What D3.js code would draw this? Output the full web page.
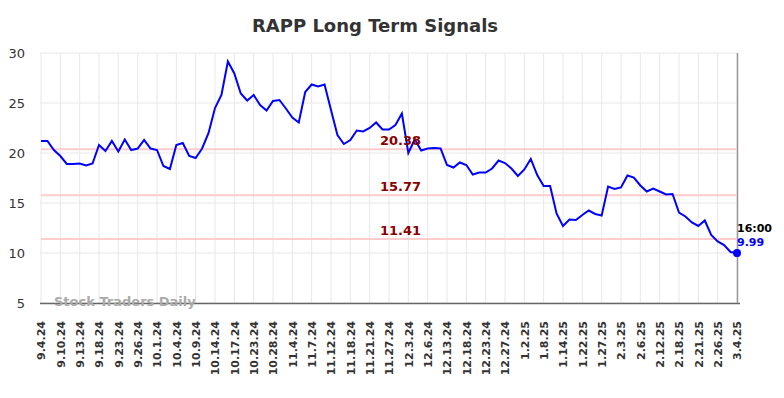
<!DOCTYPE html>
<html>
<head>
<meta charset="utf-8">
<script src="https://cdn.jsdelivr.net/npm/d3@7"></script>
<style>
  body { margin: 0; background: #fff; }
  text { font-family: "DejaVu Sans", sans-serif; }
</style>
</head>
<body>
<div class="chart"></div>
<script>
// Tick labels, one every 3 trading days
const tickLabels = ["9.4.24", "9.10.24", "9.13.24", "9.18.24", "9.23.24", "9.26.24", "10.1.24",
    "10.4.24", "10.9.24", "10.14.24", "10.17.24", "10.23.24", "10.28.24", "11.4.24", "11.7.24",
    "11.12.24", "11.18.24", "11.21.24", "11.27.24", "12.3.24", "12.6.24", "12.13.24", "12.18.24",
    "12.23.24", "12.27.24", "1.2.25", "1.8.25", "1.14.25", "1.22.25", "1.27.25", "2.3.25",
    "2.6.25", "2.12.25", "2.18.25", "2.21.25", "2.26.25", "3.4.25"]

// Closing prices
const prices = [21.2, 21.2, 20.3, 19.7, 18.9, 18.9, 18.95, 18.75, 18.95, 20.8,
    20.2, 21.2, 20.15, 21.35, 20.3, 20.45, 21.3, 20.45, 20.3, 18.7,
    18.4, 20.8, 21.0, 19.7, 19.5, 20.45, 22.0, 24.5, 25.8, 29.15,
    27.95, 25.95, 25.25, 25.8, 24.8, 24.25, 25.2, 25.3, 24.45, 23.55,
    23.05, 26.1, 26.85, 26.65, 26.85, 24.3, 21.8, 20.9, 21.3, 22.25,
    22.15, 22.5, 23.05, 22.35, 22.35, 22.8, 23.95, 20.0, 21.35, 20.25,
    20.45, 20.5, 20.45, 18.8, 18.55, 19.05, 18.8, 17.85, 18.05, 18.05,
    18.45, 19.25, 19.0, 18.45, 17.7, 18.35, 19.4, 17.8, 16.7, 16.7,
    13.95, 12.7, 13.35, 13.3, 13.8, 14.25, 13.9, 13.75, 16.65, 16.4,
    16.55, 17.75, 17.55, 16.75, 16.15, 16.45, 16.15, 15.85, 15.9, 14.05,
    13.65, 13.05, 12.7, 13.25, 11.8, 11.15, 10.8, 10.1, 9.99]

// Signal levels
const levels = [20.38, 15.77, 11.41]
const yTicks = [5, 10, 15, 20, 25, 30]
const lastTime = "16:00"

const margin = {top: 53, right: 47, bottom: 95, left: 41},
    width = 784 - margin.left - margin.right,
    height = 398 - margin.top - margin.bottom

const svg = d3.select(".chart").append("svg")
    .attr("width", 784)
    .attr("height", 398)

// title
svg.append("text")
    .attr("x", 375)
    .attr("y", 32)
    .attr("text-anchor", "middle")
    .style("font-size", "18px")
    .style("font-weight", "bold")
    .attr("fill", "#333")
    .text("RAPP Long Term Signals")

const g = svg.append("g")
    .attr("transform", "translate(" + margin.left + "," + margin.top + ")")

const x = d3.scaleLinear()
    .domain([0, prices.length - 1])
    .range([0, width])

const y = d3.scaleLinear()
    .domain([5, 30])
    .range([height, 0])

const tickIdx = tickLabels.map((d, i) => i * 3)

// grid
g.append("g")
    .attr("class", "grid")
    .selectAll("line.v")
    .data(tickIdx)
    .enter().append("line")
        .attr("x1", d => x(d))
        .attr("x2", d => x(d))
        .attr("y1", 0)
        .attr("y2", height)
        .attr("stroke", "#e8e8e8")

g.append("g")
    .selectAll("line")
    .data(yTicks)
    .enter().append("line")
        .attr("x1", -1)
        .attr("x2", width)
        .attr("y1", d => y(d))
        .attr("y2", d => y(d))
        .attr("stroke", "#e8e8e8")

// y axis, no line and no ticks
const yAxis = g.append("g")
    .call(d3.axisLeft(y).tickValues(yTicks).tickSize(0).tickPadding(16))
yAxis.select(".domain").remove()
yAxis.selectAll("text")
    .style("font-size", "13px")
    .style("font-family", "DejaVu Sans")
    .attr("fill", "#333")

// x axis with rotated labels
const xAxis = g.append("g")
    .attr("transform", "translate(0," + height + ")")
    .call(d3.axisBottom(x).tickValues(tickIdx).tickFormat((d, i) => tickLabels[i]).tickSize(0))
xAxis.select(".domain").remove()
xAxis.selectAll("text")
    .attr("transform", "rotate(-90)")
    .attr("x", -18)
    .attr("y", 0)
    .attr("dy", "0.35em")
    .style("text-anchor", "end")
    .style("font-size", "11px")
    .style("font-weight", "bold")
    .style("font-family", "DejaVu Sans")
    .attr("fill", "#333")

// frame: bottom and right
g.append("line")
    .attr("x1", -1).attr("x2", width + 3)
    .attr("y1", height + 0.5).attr("y2", height + 0.5)
    .attr("stroke", "#666")
    .attr("stroke-width", 1.5)
g.append("line")
    .attr("x1", width + 0.5).attr("x2", width + 0.5)
    .attr("y1", 0).attr("y2", height)
    .attr("stroke", "#999")
    .attr("stroke-width", 1.5)

// watermark
g.append("text")
    .attr("x", 13)
    .attr("y", height + 3)
    .style("font-size", "13px")
    .style("font-weight", "bold")
    .attr("fill", "#aaa")
    .text("Stock Traders Daily")

// signal lines
g.selectAll(".level")
    .data(levels)
    .enter().append("line")
        .attr("class", "level")
        .attr("x1", 0)
        .attr("x2", width)
        .attr("y1", d => y(d))
        .attr("y2", d => y(d))
        .attr("stroke", "#ffcccc")
        .attr("stroke-width", 2)

// price line
const line = d3.line()
    .x((d, i) => x(i))
    .y(d => y(d))

g.append("path")
    .datum(prices)
    .attr("fill", "none")
    .attr("stroke", "#0000ff")
    .attr("stroke-width", 2)
    .attr("d", line)

// level labels
g.selectAll(".levelLabel")
    .data(levels)
    .enter().append("text")
        .attr("class", "levelLabel")
        .attr("x", 339)
        .attr("y", d => y(d) - 4)
        .style("font-size", "13px")
        .style("font-weight", "bold")
        .attr("fill", "#8b0000")
        .text(d => d.toFixed(2))

// last point
const last = prices.length - 1
g.append("circle")
    .attr("cx", x(last))
    .attr("cy", y(prices[last]))
    .attr("r", 4)
    .attr("fill", "#0000ff")

g.append("text")
    .attr("x", x(last))
    .attr("y", y(prices[last]) - 21)
    .style("font-size", "11px")
    .style("font-weight", "bold")
    .attr("fill", "#000")
    .text(lastTime)

g.append("text")
    .attr("x", x(last))
    .attr("y", y(prices[last]) - 7)
    .style("font-size", "11px")
    .style("font-weight", "bold")
    .attr("fill", "#0000ff")
    .text(prices[last].toFixed(2))
</script>
</body>
</html>
